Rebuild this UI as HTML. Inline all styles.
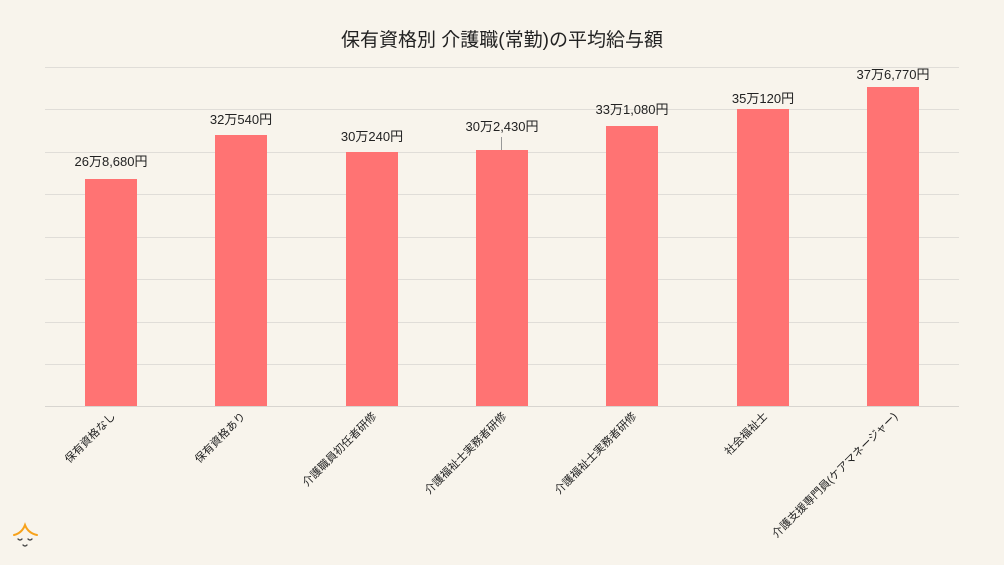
<!DOCTYPE html>
<html><head><meta charset="utf-8"><style>
html,body{margin:0;padding:0;background:#f8f4ec;}
svg{display:block;font-family:"Liberation Sans","Noto Sans CJK JP",sans-serif;}
</style></head><body>
<svg width="1004" height="565" viewBox="0 0 1004 565">
<rect width="1004" height="565" fill="#f8f4ec"/>
<text x="502" y="46" text-anchor="middle" font-size="19" fill="#222">保有資格別  介護職(常勤)の平均給与額</text>
<g stroke="#e0ddd8" stroke-width="1">
<line x1="45" x2="959" y1="67.5" y2="67.5"/><line x1="45" x2="959" y1="109.5" y2="109.5"/>
<line x1="45" x2="959" y1="152.5" y2="152.5"/><line x1="45" x2="959" y1="194.5" y2="194.5"/>
<line x1="45" x2="959" y1="237.5" y2="237.5"/><line x1="45" x2="959" y1="279.5" y2="279.5"/>
<line x1="45" x2="959" y1="322.5" y2="322.5"/><line x1="45" x2="959" y1="364.5" y2="364.5"/>
</g>
<g fill="#ff7373">
<rect x="85" y="179" width="52" height="228"/>
<rect x="215" y="135" width="52" height="272"/>
<rect x="346" y="152" width="52" height="255"/>
<rect x="476" y="150" width="52" height="257"/>
<rect x="606" y="126" width="52" height="281"/>
<rect x="737" y="109" width="52" height="298"/>
<rect x="867" y="87" width="52" height="320"/>
</g>
<line x1="45" x2="959" y1="406.5" y2="406.5" stroke="#d8d5d0"/>
<line x1="501.5" x2="501.5" y1="137" y2="150" stroke="#999"/>
<g font-size="13" fill="#222" text-anchor="middle">
<text x="111" y="166">26万8,680円</text>
<text x="241" y="124">32万540円</text>
<text x="372" y="141">30万240円</text>
<text x="502" y="131">30万2,430円</text>
<text x="632" y="114">33万1,080円</text>
<text x="763" y="103">35万120円</text>
<text x="893" y="79">37万6,770円</text>
</g>
<g font-size="11" fill="#222" text-anchor="end">
<text transform="translate(116,417) rotate(-45)">保有資格なし</text>
<text transform="translate(246,417) rotate(-45)">保有資格あり</text>
<text transform="translate(377,417) rotate(-45)">介護職員初任者研修</text>
<text transform="translate(507,417) rotate(-45)">介護福祉士実務者研修</text>
<text transform="translate(637,417) rotate(-45)">介護福祉士実務者研修</text>
<text transform="translate(768,417) rotate(-45)">社会福祉士</text>
<text transform="translate(898,417) rotate(-45)">介護支援専門員(ケアマネージャー)</text>
</g>
<g fill="none" stroke-linecap="round">
<path d="M14 535 Q22 533 25 525 Q28 533 37 535" stroke="#f7a21b" stroke-width="2"/>
<path d="M18 539 q2 2 4 0 M28 539 q2 2 4 0 M23 545 q2 2 4 0" stroke="#444" stroke-width="1.3"/>
</g>
</svg>
</body></html>
